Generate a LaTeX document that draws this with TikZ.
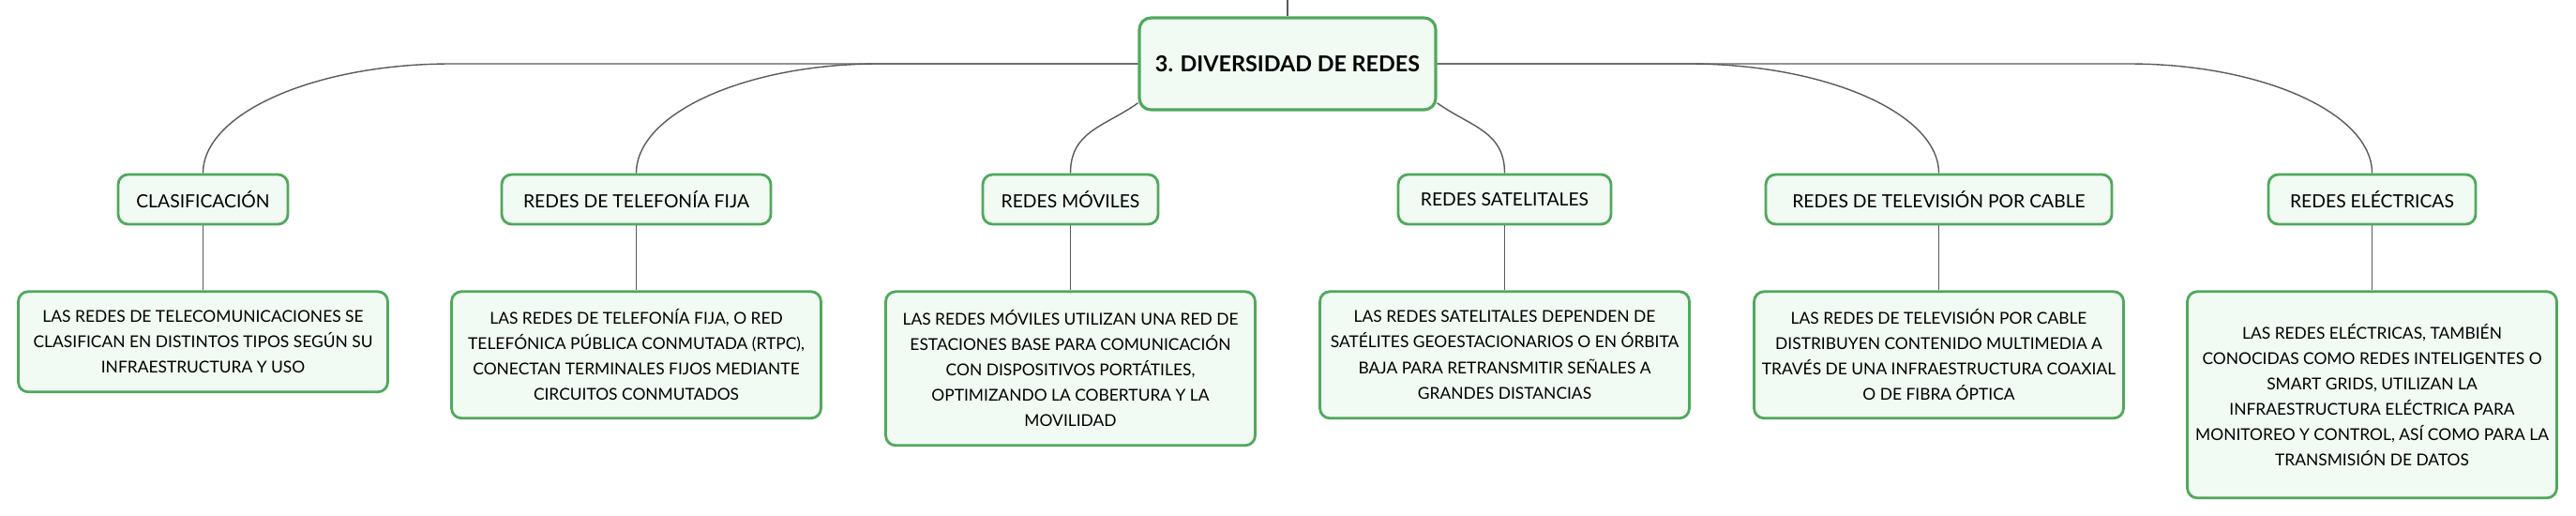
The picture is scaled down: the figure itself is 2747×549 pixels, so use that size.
\documentclass[tikz,border=0pt]{standalone}
\usepackage{fontspec}
\setmainfont{Lato}
\usetikzlibrary{positioning}
\definecolor{mapGreen}{RGB}{80,168,92}
\definecolor{mapFill}{RGB}{241,250,243}
\definecolor{mapLine}{RGB}{90,90,90}

\begin{document}
\begin{tikzpicture}
[x=0.02cm,y=-0.02cm,
  lineDecorate/.style={-,draw=mapLine,line width=0.8pt},%
  rootDecorate/.style={draw=mapGreen,fill=mapFill,line width=1.8pt,rounded corners=7pt,
    minimum width=6.32cm,minimum height=1.96cm,inner sep=0pt,
    font=\fontsize{13.3}{16}\selectfont\bfseries},%
  topicDecorate/.style={draw=mapGreen,fill=mapFill,line width=1.6pt,rounded corners=6pt,
    minimum height=1.06cm,inner sep=0pt,font=\fontsize{11}{14}\selectfont},%
  noteDecorate/.style={draw=mapGreen,fill=mapFill,line width=1.6pt,rounded corners=6pt,
    minimum width=7.88cm,inner sep=0pt,align=center,font=\fontsize{9.9}{15.4}\selectfont}]
\useasboundingbox (0,0) rectangle (2747,549);
%% central topic
\node (root) at (1373,68) [rootDecorate] {3. DIVERSIDAD DE REDES};
\coordinate (top) at (1373,0);
\draw[lineDecorate] (top) -- (root);
%% branches and their notes
\foreach \name/\x/\w/\h/\topic/\note in {
  cls/216.5/3.62/2.14/{CLASIFICACIÓN}/{LAS REDES DE TELECOMUNICACIONES SE\\CLASIFICAN EN DISTINTOS TIPOS SEGÚN SU\\INFRAESTRUCTURA Y USO},
  fija/678.5/5.74/2.7/{REDES DE TELEFONÍA FIJA}/{LAS REDES DE TELEFONÍA FIJA, O RED\\TELEFÓNICA PÚBLICA CONMUTADA (RTPC),\\CONECTAN TERMINALES FIJOS MEDIANTE\\CIRCUITOS CONMUTADOS},
  mov/1141.5/3.74/3.28/{REDES MÓVILES}/{LAS REDES MÓVILES UTILIZAN UNA RED DE\\ESTACIONES BASE PARA COMUNICACIÓN\\CON DISPOSITIVOS PORTÁTILES,\\OPTIMIZANDO LA COBERTURA Y LA\\MOVILIDAD},
  sat/1604.5/4.54/2.7/{REDES SATELITALES}/{LAS REDES SATELITALES DEPENDEN DE\\SATÉLITES GEOESTACIONARIOS O EN ÓRBITA\\BAJA PARA RETRANSMITIR SEÑALES A\\GRANDES DISTANCIAS},
  tv/2067.5/7.38/2.7/{REDES DE TELEVISIÓN POR CABLE}/{LAS REDES DE TELEVISIÓN POR CABLE\\DISTRIBUYEN CONTENIDO MULTIMEDIA A\\TRAVÉS DE UNA INFRAESTRUCTURA COAXIAL\\O DE FIBRA ÓPTICA},
  ele/2529.5/4.42/4.4/{REDES ELÉCTRICAS}/{LAS REDES ELÉCTRICAS, TAMBIÉN\\CONOCIDAS COMO REDES INTELIGENTES O\\SMART GRIDS, UTILIZAN LA\\INFRAESTRUCTURA ELÉCTRICA PARA\\MONITOREO Y CONTROL, ASÍ COMO PARA LA\\TRANSMISIÓN DE DATOS}}
{
  \node (\name) at (\x,212.5) [topicDecorate,minimum width=\w cm] {\topic};
  \node (\name-note) [noteDecorate,minimum height=\h cm,below=1.38cm of \name] {\note};
  \draw[lineDecorate] (\name) -- (\name-note);
}
%% curved links from the central topic
\draw[lineDecorate] (root.west) -- (481,68) .. controls +(-145,0) and +(0,-64) .. (cls.north);
\draw[lineDecorate] (root.west) -- (937,68) .. controls +(-141,0) and +(0,-64) .. (fija.north);
\draw[lineDecorate] ([yshift=5pt]root.south west) .. controls +(-35,25) and +(0,-45) .. (mov.north);
\draw[lineDecorate] ([yshift=5pt]root.south east) .. controls +(35,25) and +(0,-45) .. (sat.north);
\draw[lineDecorate] (root.east) -- (1801,68) .. controls +(145,0) and +(0,-64) .. (tv.north);
\draw[lineDecorate] (root.east) -- (2270,68) .. controls +(142,0) and +(0,-64) .. (ele.north);
\end{tikzpicture}
\end{document}
